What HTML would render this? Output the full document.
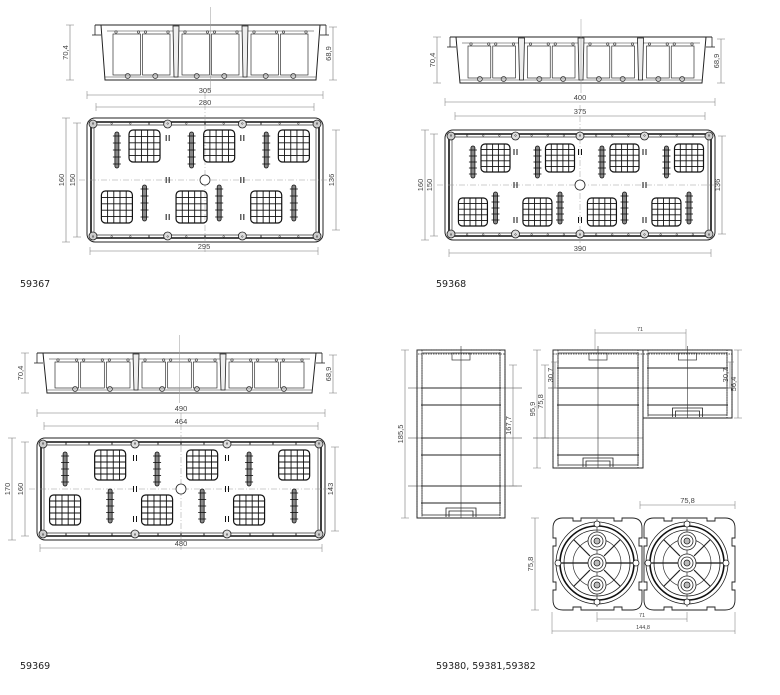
<!DOCTYPE html>
<html><head><meta charset="utf-8">
<style>
html,body{margin:0;padding:0;background:#fff;}
svg{display:block;}
.lbl{font-family:"DejaVu Sans","Liberation Sans",sans-serif;font-size:9.5px;fill:#222;}
.d{font-family:"Liberation Sans",sans-serif;font-size:7.5px;fill:#444;}
.ds{font-family:"Liberation Sans",sans-serif;font-size:5.5px;fill:#444;}
</style></head>
<body>
<svg id="s" width="780" height="695" viewBox="0 0 780 695" xmlns="http://www.w3.org/2000/svg">
<text class="lbl" x="20" y="287">59367</text>
<text class="lbl" x="436" y="287">59368</text>
<text class="lbl" x="20" y="669">59369</text>
<text class="lbl" x="436" y="669">59380, 59381,59382</text>
</svg>
<script>
(function(){
const S=document.getElementById('s');let out='';
function L(x1,y1,x2,y2,c,w,da){out+=`<line x1="${x1}" y1="${y1}" x2="${x2}" y2="${y2}" stroke="${c||'#222'}" stroke-width="${w||0.8}"${da?` stroke-dasharray="${da}"`:''}/>`;}
function R(x,y,w,h,r,c,sw,f){out+=`<rect x="${x}" y="${y}" width="${w}" height="${h}" rx="${r||0}" fill="${f||'none'}" stroke="${c||'#222'}" stroke-width="${sw||0.8}"/>`;}
function C(x,y,r,c,sw,f){out+=`<circle cx="${x}" cy="${y}" r="${r}" fill="${f||'none'}" stroke="${c||'#222'}" stroke-width="${sw||0.8}"/>`;}
function T(x,y,t,cls,rot){out+=`<text class="${cls||'d'}" x="${x}" y="${y}" text-anchor="middle"${rot?` transform="rotate(-90 ${x} ${y})"`:''}>${t}</text>`;}
function hd(x1,x2,y,t){L(x1,y,x2,y,'#777',0.6);L(x1,y-4,x1,y+4,'#777',0.5);L(x2,y-4,x2,y+4,'#777',0.5);T((x1+x2)/2,y-2,t);}
function vd(x,y1,y2,t){L(x,y1,x,y2,'#777',0.6);L(x-4,y1,x+4,y1,'#777',0.5);L(x-4,y2,x+4,y2,'#777',0.5);T(x-2,(y1+y2)/2,t,'d',true);}
function grid(x,y,w,h){R(x,y,w,h,4,'#111',1.2);for(let i=1;i<5;i++){L(x+w*i/5,y,x+w*i/5,y+h,'#111',0.9);L(x,y+h*i/5,x+w,y+h*i/5,'#111',0.9);}}
function rib(x,y1,y2){R(x-2,y1,4,y2-y1,2,'#111',0.8,'#888');for(let k=0;k<5;k++){let yy=y1+4+(y2-y1-8)*k/4;L(x-4,yy,x+4,yy,'#111',0.8);}}
function topv(x0,y0,x1,y1,n,fa,fb,gw,gy1,gy2,gh){
 R(x0,y0,x1-x0,y1-y0,8,'#222',1);R(x0+4,y0+4,x1-x0-8,y1-y0-8,5,'#111',1.6);R(x0+7,y0+7,x1-x0-14,y1-y0-14,3,'#333',0.7);
 let cx=(x0+x1)/2,cy=(y0+y1)/2;
 L(x0-8,cy,x1+8,cy,'#999',0.5,'6 2 1 2');L(cx,y0-25,cx,y1+10,'#999',0.5,'6 2 1 2');
 let ix0=x0+6,M=(x1-x0-12)/n;
 for(let m=0;m<n;m++){let b=ix0+m*M;
  grid(b+M*fa-gw/2,gy2,gw,gh);rib(b+M*fa,gy1+2,gy1+gh+6);
  grid(b+M*fb-gw/2,gy1,gw,gh);rib(b+M*fb,gy2-6,gy2+gh-2);
  if(m>0){for(const yy of [gy1+8,cy,gy2+gh-6]){L(b-1.5,yy-3,b-1.5,yy+3,'#111',1);L(b+1.5,yy-3,b+1.5,yy+3,'#111',1);}
   C(b,y0+6,4,'#222',0.8,'#ddd');C(b,y1-6,4,'#222',0.8,'#ddd');}
 }
 C(cx,cy,5,'#222',0.8,'#fff');
 for(const p of [[x0+6,y0+6],[x1-6,y0+6],[x0+6,y1-6],[x1-6,y1-6]])C(p[0],p[1],4,'#222',0.8,'#ccc');
 for(let k=0;k<=n*4;k++){let xx=ix0+k*M/4;C(xx,y0+5.5,0.8,'#333',0.5);C(xx,y1-5.5,0.8,'#333',0.5);}
}
function side(x0,y0,x1,y1,n){
 L(x0,y0,x1,y0,'#222',1);L(x0,y0,x0,y0+10,'#222',0.8);L(x1,y0,x1,y0+10,'#222',0.8);
 L(x0-3,y0+10,x0+6,y0+10);L(x1+3,y0+10,x1-6,y0+10);
 out+=`<polygon points="${x0+6},${y0} ${x1-6},${y0} ${x1-10},${y1} ${x0+10},${y1}" fill="none" stroke="#222" stroke-width="1"/>`;
 L(x0+12,y0+6,x1-12,y0+6,'#333',0.6);L(x0+10,y1-3,x1-10,y1-3,'#333',0.6);
 let M=(x1-x0-24)/n,b0=x0+12;
 for(let m=0;m<n;m++){let b=b0+m*M;
  if(m>0){out+=`<polygon points="${b-3},${y0+1} ${b+3},${y0+1} ${b+2},${y1-3} ${b-2},${y1-3}" fill="#eee" stroke="#222" stroke-width="0.8"/>`;}
  let k=M>70?3:2,w=(M-10)/k;
  for(let j=0;j<k;j++){R(b+5+j*w+1,y0+9,w-2,y1-y0-14,0,'#333',0.7);C(b+5+j*w+4,y0+7,1.2,'#333',0.6);C(b+5+(j+1)*w-3,y0+7,1.2,'#333',0.6);}
  C(b+M*0.3,y1-4,2.5,'#333',0.7);C(b+M*0.7,y1-4,2.5,'#333',0.7);
 }
 L((x0+x1)/2,y0-18,(x0+x1)/2,y1+10,'#999',0.5);
}
side(95,25,326,80,3);vd(70,25,80,'70,4');vd(333,27,80,'68,9');
topv(87,118,323,242,3,0.32,0.69,31,130,191,32);
hd(87,323,95,'305');hd(96,314,107,'280');hd(90,318,251,'295');
vd(66,118,242,'160');vd(77,123,237,'150');vd(336,130,230,'136');
side(450,37,712,83,4);vd(437,37,83,'70,4');vd(721,39,83,'68,9');
topv(445,130,715,240,4,0.34,0.69,29,144,198,28);
hd(445,715,102,'400');hd(455,705,116,'375');hd(449,711,253,'390');
vd(425,130,240,'160');vd(434,134,236,'150');vd(722,136,234,'136');
side(37,353,322,393,3);vd(25,353,393,'70,4');vd(333,355,393,'68,9');
topv(37,438,325,540,3,0.24,0.73,31,450,495,30);
hd(37,325,413,'490');hd(44,318,426,'464');hd(40,322,548,'480');
vd(12,438,540,'170');vd(25,442,536,'160');vd(335,447,531,'143');
function sect(x0,y0,x1,y1,rows){
 R(x0,y0,x1-x0,y1-y0,0,'#222',1);R(x0+5,y0+3,x1-x0-10,y1-y0-6,0,'#333',0.8,'none');
 out+=`<rect x="${x0}" y="${y0}" width="5" height="${y1-y0}" fill="none" stroke="#333" stroke-width="0.8" stroke-dasharray="1.5 1"/>`;
 out+=`<rect x="${x1-5}" y="${y0}" width="5" height="${y1-y0}" fill="none" stroke="#333" stroke-width="0.8" stroke-dasharray="1.5 1"/>`;
 out+=`<rect x="${x0}" y="${y0}" width="${x1-x0}" height="4" fill="none" stroke="#333" stroke-width="0.8" stroke-dasharray="1.5 1"/>`;
 for(const r of rows)L(x0+4,r,x1-4,r,'#222',0.9);
 let cx=(x0+x1)/2;L(cx,y0-4,cx,y1,'#333',0.6);
 out+=`<path d="M${cx-15},${y1-1} V${y1-10} H${cx+15} V${y1-1} M${cx-12},${y1-1} V${y1-7} H${cx+12} V${y1-1}" fill="none" stroke="#222" stroke-width="0.8"/>`;
 R(cx-9,y0+3,18,7,0,'#333',0.7);
}
sect(417,350,505,518,[388,405,438,455,486,503]);
L(408,388,522,388,'#333',0.6);L(408,438,522,438,'#333',0.6);L(408,486,522,486,'#333',0.6);
vd(405,350,518,'185,5');vd(513,365,486,'167,7');
sect(553,350,643,468,[368,388,405,455]);
sect(643,350,732,418,[368,388,405]);
L(595,333,686,333,'#777',0.6);L(595,329,595,350,'#777',0.5);L(686,329,686,350,'#777',0.5);T(640,331,'71','ds');
L(548,388,732,388,'#333',0.6);L(533,438,643,438,'#333',0.6);
vd(537,350,468,'95,9');vd(545,365,438,'75,8');vd(555,362,388,'30,7');
vd(738,350,418,'56,4');vd(730,362,388,'30,7');
function plate(x0,y0,x1,y1,cx,cy){
 out+=`<path d="M${x0+10},${y0} H${x0+20} v3 h8 v-3 H${x1-28} v3 h8 v-3 H${x1-10} Q${x1},${y0} ${x1},${y0+10} V${y0+20} h-3 v8 h3 V${y1-28} h-3 v8 h3 V${y1-10} Q${x1},${y1} ${x1-10},${y1} H${x1-20} v-3 h-8 v3 H${x0+28} v-3 h-8 v3 H${x0+10} Q${x0},${y1} ${x0},${y1-10} V${y1-20} h3 v-8 h-3 V${y0+28} h3 v-8 h-3 V${y0+10} Q${x0},${y0} ${x0+10},${y0}Z" fill="none" stroke="#222" stroke-width="0.9"/>`;
 C(cx,cy,41,'#222',0.8);C(cx,cy,37,'#111',1.6);C(cx,cy,33,'#222',0.8);C(cx,cy,24,'#333',0.7);
 L(cx-41,cy,cx+41,cy,'#111',1.3);L(cx,cy-44,cx,cy+44,'#333',0.7);
 for(const a of [45,135,225,315]){let r=a*Math.PI/180;L(cx+10*Math.cos(r),cy+10*Math.sin(r),cx+33*Math.cos(r),cy+33*Math.sin(r),'#222',1.1);}
 for(const dy of [-22,0,22]){C(cx,cy+dy,9,'#222',0.8,'#fff');C(cx,cy+dy,6,'#222',0.8);C(cx,cy+dy,3,'#222',0.8,'#bbb');}
 for(const p of [[0,-39],[0,39],[-39,0],[39,0]])C(cx+p[0],cy+p[1],3,'#222',0.8,'#fff');
}
plate(553,518,642,610,597,563);plate(644,518,735,610,687,563);
hd(640,735,505,'75,8');vd(535,518,610,'75,8');
L(597,612,597,622,'#777',0.5);L(687,612,687,622,'#777',0.5);L(597,619,687,619,'#777',0.6);T(642,617,'71','ds');
L(552,612,552,634,'#777',0.5);L(735,612,735,634,'#777',0.5);L(552,631,735,631,'#777',0.6);T(643,629,'144,8','ds');
S.insertAdjacentHTML('beforeend',out);
})();
</script>
</body></html>
